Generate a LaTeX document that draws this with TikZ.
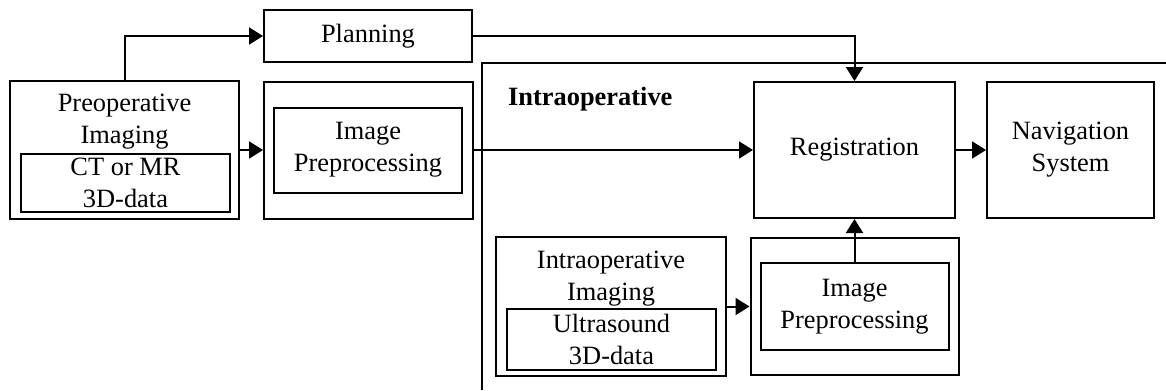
\documentclass[tikz,border=0pt]{standalone}
\usepackage{fontspec}
\setmainfont{Liberation Serif}
\usetikzlibrary{arrows.meta, positioning}

\begin{document}
\begin{tikzpicture}[x=1bp, y=-1bp,
    >={Triangle[length=14bp,width=17bp]},
    box/.style={draw, line width=2bp, inner sep=0pt, align=center,
        font=\fontsize{26.5}{32}\selectfont},
    txt/.style={inner sep=0pt, align=center, font=\fontsize{26.5}{32}\selectfont},
    link/.style={->, line width=2bp}]

    % =================================================================
    % 1. KHUNG HINH
    % =================================================================
    \useasboundingbox (0,0) rectangle (1166,390);

    % =================================================================
    % 2. GIAI DOAN TRUOC MO
    % =================================================================
    \node[box, minimum width=208bp, minimum height=52bp] (plan) at (368,36) {Planning};

    % Khoi anh truoc mo, co khoi du lieu ben trong
    \node[box, minimum width=229bp, minimum height=138bp] (pre) at (124.5,150) {};
    \node[txt] (pretitle) at (124.5,122) {Preoperative\\Imaging};
    \node[box, minimum width=209bp, minimum height=58bp] (ct) at (125.5,183) {CT or MR\\3D-data};

    % Tien xu ly anh (truoc mo)
    \node[box, minimum width=209bp, minimum height=137bp] (pp1) at (368.5,150) {};
    \node[box, minimum width=188bp, minimum height=85bp] (pp1in) at (368,150) {Image\\Preprocessing};

    % =================================================================
    % 3. GIAI DOAN TRONG MO
    % =================================================================
    \coordinate (frameTR) at (1166,63);
    \coordinate (frameTL) at (482,63);
    \coordinate (frameBL) at (482,390);
    \draw[line width=2bp] (frameTR) -- (frameTL) -- (frameBL);
    \node[txt, font=\fontsize{26.5}{32}\selectfont\bfseries, anchor=base west] (intratitle) at (508,105) {Intraoperative};

    \node[box, minimum width=201bp, minimum height=136bp] (reg) at (854.5,150) {Registration};
    \node[box, minimum width=167bp, minimum height=136bp] (nav) at (1070.5,150) {Navigation\\System};

    % Khoi anh trong mo
    \node[box, minimum width=230bp, minimum height=139bp] (intra) at (611,306.5) {};
    \node[txt] (intratxt) at (611,279) {Intraoperative\\Imaging};
    \node[box, minimum width=209bp, minimum height=61bp] (us) at (611.5,339.5) {Ultrasound\\3D-data};

    % Tien xu ly anh (trong mo)
    \node[box, minimum width=208bp, minimum height=137bp] (pp2) at (854.5,306.5) {};
    \node[box, minimum width=188bp, minimum height=87bp] (pp2in) at (854.5,306.5) {Image\\Preprocessing};

    % =================================================================
    % 4. CAC MUI TEN
    % =================================================================
    \draw[link] (pre.north) |- (plan.west);
    \draw[link] (pre.east) -- (pp1.west);
    \draw[link] (plan.east) -| (reg.north);
    \draw[link] (pp1.east) -- (reg.west);
    \draw[link] (reg.east) -- (nav.west);
    \draw[link] (intra.east) -- (pp2.west);
    \draw[link] (pp2in.north) -- (reg.south);

\end{tikzpicture}
\end{document}
